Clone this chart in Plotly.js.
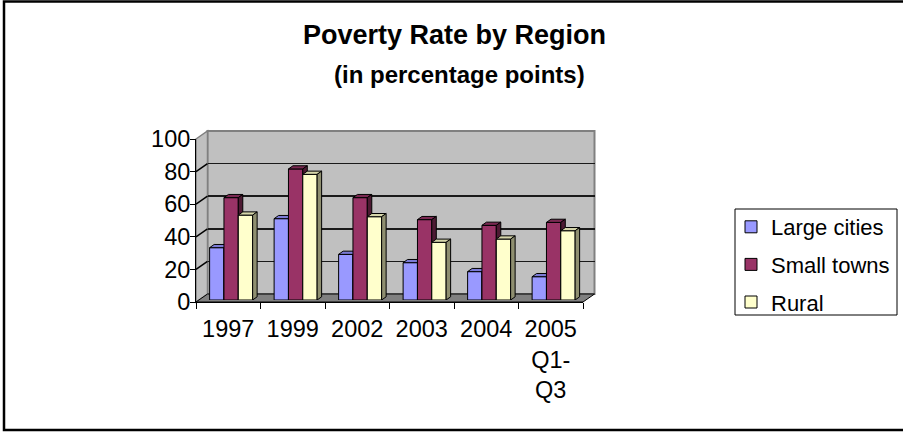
<!DOCTYPE html>
<html>
<head>
<meta charset="utf-8">
<script src="https://cdn.plot.ly/plotly-3.0.1.min.js"></script>
<style>html,body{margin:0;padding:0;background:#fff;}</style>
</head>
<body>
<div id="chart" style="width:903px;height:432px;"></div>
<script>
// Poverty rate by region, in percentage points
const years = ['1997', '1999', '2002', '2003', '2004', '2005<br>Q1-<br>Q3'];
const largeCities = [32.1, 49.9, 28.0, 22.9, 17.4, 14.3];
const smallTowns = [62.8, 80.4, 62.8, 49.3, 45.8, 47.6];
const rural = [52.1, 77.1, 51.1, 35.4, 37.4, 42.5];
const yTicks = [0, 20, 40, 60, 80, 100];
const seriesNames = ['Large cities', 'Small towns', 'Rural'];

// ---- page geometry (pixels) ----
const W = 903, H = 432;
const fx = p => p / W;          // pixel x -> paper
const fy = p => 1 - p / H;      // pixel y -> paper
const FRONT = { x0: 196, x1: 583, y0: 139, y1: 302 };   // front frame of the box
const DEPTH = { dx: 11.5, dy: 8 };                        // box depth offset
const BAR_DEPTH_POS = 0.25;                               // where bar front faces sit in the box
const BAR_FACE = { dx: 4.5, dy: 3.2 };                    // bar thickness offset (px)
const LEGEND_BOX = { x0: 735, x1: 897, y0: 209, y1: 315 };
const FONT = 'Liberation Sans, Arial, Helvetica, sans-serif';

const pxPerCat = (FRONT.x1 - FRONT.x0) / years.length;
const pxPerUnit = (FRONT.y1 - FRONT.y0) / 100;
const ddx = BAR_FACE.dx / pxPerCat;
const ddy = BAR_FACE.dy / pxPerUnit;

const styles = [
  { values: largeCities, front: '#9999ff', top: '#7b7bd6', side: '#5c5c99' },
  { values: smallTowns,  front: '#993366', top: '#7a2952', side: '#4d1a33' },
  { values: rural,       front: '#ffffcc', top: '#d6d6aa', side: '#8f8f70' }
];

const barGap = 0.333;
const barW = (1 - barGap) / 3;
const idx = years.map((_, i) => i);

const data = [];

// back wall subplot (x/y) and front axis subplot (x2/y2)
data.push({ type: 'scatter', mode: 'lines', x: [], y: [], xaxis: 'x', yaxis: 'y',
            showlegend: false, hoverinfo: 'skip' });
data.push({ type: 'scatter', mode: 'lines', x: years, y: years.map(() => null),
            xaxis: 'x2', yaxis: 'y2', showlegend: false, hoverinfo: 'skip' });

// each series on its own overlapping subplot so that later bars cover the
// side faces of earlier ones
styles.forEach((s, k) => {
  const ax = 3 + k;
  const xa = 'x' + ax, ya = 'y' + ax;
  const offset = -1.5 * barW + k * barW;
  data.push({
    type: 'bar', name: seriesNames[k], legendgroup: seriesNames[k],
    x: idx, y: s.values, offset: offset, width: barW,
    xaxis: xa, yaxis: ya,
    marker: { color: s.front, line: { color: '#000', width: 1 } },
    hoverinfo: 'skip'
  });
  s.values.forEach((v, i) => {
    const xl = i + offset, xr = xl + barW;
    // top face
    data.push({
      type: 'scatter', mode: 'lines', fill: 'toself', fillcolor: s.top,
      x: [xl, xr, xr + ddx, xl + ddx, xl], y: [v, v, v + ddy, v + ddy, v],
      line: { color: '#000', width: 1 }, xaxis: xa, yaxis: ya,
      showlegend: false, hoverinfo: 'skip'
    });
    // side face
    data.push({
      type: 'scatter', mode: 'lines', fill: 'toself', fillcolor: s.side,
      x: [xr, xr + ddx, xr + ddx, xr, xr], y: [0, ddy, v + ddy, v, 0],
      line: { color: '#000', width: 1 }, xaxis: xa, yaxis: ya,
      showlegend: false, hoverinfo: 'skip'
    });
  });
});

// ---- box walls ----
const back = { x0: FRONT.x0 + DEPTH.dx, x1: FRONT.x1 + DEPTH.dx,
               y0: FRONT.y0 - DEPTH.dy, y1: FRONT.y1 - DEPTH.dy };
const P = (x, y) => fx(x) + ',' + fy(y);
const shapes = [
  // back wall
  { type: 'rect', xref: 'paper', yref: 'paper', layer: 'below',
    x0: fx(back.x0), x1: fx(back.x1), y0: fy(back.y1), y1: fy(back.y0),
    fillcolor: '#c0c0c0', line: { color: '#808080', width: 2 } },
  // left wall
  { type: 'path', xref: 'paper', yref: 'paper', layer: 'below',
    path: 'M' + P(FRONT.x0, FRONT.y0) + 'L' + P(back.x0, back.y0) + 'L' + P(back.x0, back.y1) +
          'L' + P(FRONT.x0, FRONT.y1) + 'Z',
    fillcolor: '#c0c0c0', line: { color: '#808080', width: 1.5 } },
  // floor
  { type: 'path', xref: 'paper', yref: 'paper', layer: 'below',
    path: 'M' + P(FRONT.x0, FRONT.y1) + 'L' + P(back.x0, back.y1) + 'L' + P(back.x1, back.y1) +
          'L' + P(FRONT.x1, FRONT.y1) + 'Z',
    fillcolor: '#808080', line: { color: '#000', width: 1 } },
  // legend frame
  { type: 'rect', xref: 'paper', yref: 'paper', layer: 'below',
    x0: fx(LEGEND_BOX.x0), x1: fx(LEGEND_BOX.x1), y0: fy(LEGEND_BOX.y1), y1: fy(LEGEND_BOX.y0),
    fillcolor: '#fff', line: { color: '#000', width: 1 } },
  // chart frame
  { type: 'rect', xref: 'paper', yref: 'paper', layer: 'above',
    x0: fx(4), x1: fx(912), y0: fy(430), y1: fy(1.5),
    line: { color: '#000', width: 2.5 } }
];
// gridlines running across the left wall
yTicks.filter(v => v > 0 && v < 100).forEach(v => {
  shapes.push({ type: 'line', xref: 'paper', yref: 'paper', layer: 'below',
    x0: fx(FRONT.x0), y0: fy(FRONT.y1 - v * pxPerUnit),
    x1: fx(back.x0), y1: fy(back.y1 - v * pxPerUnit),
    line: { color: '#000', width: 1.5 } });
});

const hidden = (dom, anchor, range) => ({
  domain: dom, anchor: anchor, range: range, visible: false, fixedrange: true
});
const frontX = [fx(FRONT.x0), fx(FRONT.x1)], frontY = [fy(FRONT.y1), fy(FRONT.y0)];
const barX = [fx(FRONT.x0 + DEPTH.dx * BAR_DEPTH_POS), fx(FRONT.x1 + DEPTH.dx * BAR_DEPTH_POS)];
const barY = [fy(FRONT.y1 - DEPTH.dy * BAR_DEPTH_POS), fy(FRONT.y0 - DEPTH.dy * BAR_DEPTH_POS)];
const tickFont = { family: FONT, size: 23.5, color: '#000' };

const layout = {
  width: W, height: H,
  margin: { l: 0, r: 0, t: 0, b: 0 },
  paper_bgcolor: '#fff', plot_bgcolor: 'rgba(0,0,0,0)',
  barmode: 'overlay',
  showlegend: true,
  font: { family: FONT, color: '#000' },
  title: {
    text: 'Poverty Rate by Region',
    x: fx(454.5), xanchor: 'center', y: fy(35), yanchor: 'middle',
    font: { family: FONT, size: 27, weight: 'bold', color: '#000' }
  },
  annotations: [{
    text: '(in percentage points)', xref: 'paper', yref: 'paper',
    x: fx(459.5), y: fy(74), xanchor: 'center', yanchor: 'middle', showarrow: false,
    font: { family: FONT, size: 24, weight: 'bold', color: '#000' }
  }],
  legend: {
    x: fx(731), y: fy(206), xanchor: 'left', yanchor: 'top',
    bgcolor: 'rgba(0,0,0,0)', borderwidth: 0,
    font: { family: FONT, size: 22, color: '#000' },
    tracegroupgap: 6, traceorder: 'grouped'
  },
  shapes: shapes,
  // back wall axes: carry the wall gridlines
  xaxis: { domain: [fx(back.x0), fx(back.x1)], anchor: 'y', range: [-0.5, 5.5],
           showgrid: false, zeroline: false, showticklabels: false, ticks: '', showline: false },
  yaxis: { domain: [fy(back.y1), fy(back.y0)], anchor: 'x', range: [0, 100],
           tickvals: yTicks.filter(v => v > 0 && v < 100),
           showgrid: true, gridcolor: '#1a1a1a', gridwidth: 1.5,
           zeroline: false, showticklabels: false, ticks: '', showline: false },
  // front axes: tick marks and labels
  xaxis2: { domain: frontX, anchor: 'y2', type: 'category', categoryorder: 'array',
            categoryarray: years, range: [-0.5, 5.5], tickson: 'boundaries',
            showline: true, linecolor: '#000', linewidth: 1,
            ticks: 'outside', ticklen: 6, tickcolor: '#000', tickwidth: 1,
            ticklabelstandoff: 6,
            showgrid: false, zeroline: false, tickfont: tickFont },
  yaxis2: { domain: frontY, anchor: 'x2', range: [0, 100], tickvals: yTicks,
            showline: true, linecolor: '#000', linewidth: 1,
            ticks: 'outside', ticklen: 5, tickcolor: '#000', tickwidth: 1,
            ticklabelstandoff: -5,
            showgrid: false, zeroline: false, tickfont: tickFont },
  xaxis3: hidden(barX, 'y3', [-0.5, 5.5]), yaxis3: hidden(barY, 'x3', [0, 100]),
  xaxis4: hidden(barX, 'y4', [-0.5, 5.5]), yaxis4: hidden(barY, 'x4', [0, 100]),
  xaxis5: hidden(barX, 'y5', [-0.5, 5.5]), yaxis5: hidden(barY, 'x5', [0, 100])
};

Plotly.newPlot('chart', data, layout, { staticPlot: true, displayModeBar: false });
</script>
</body>
</html>
